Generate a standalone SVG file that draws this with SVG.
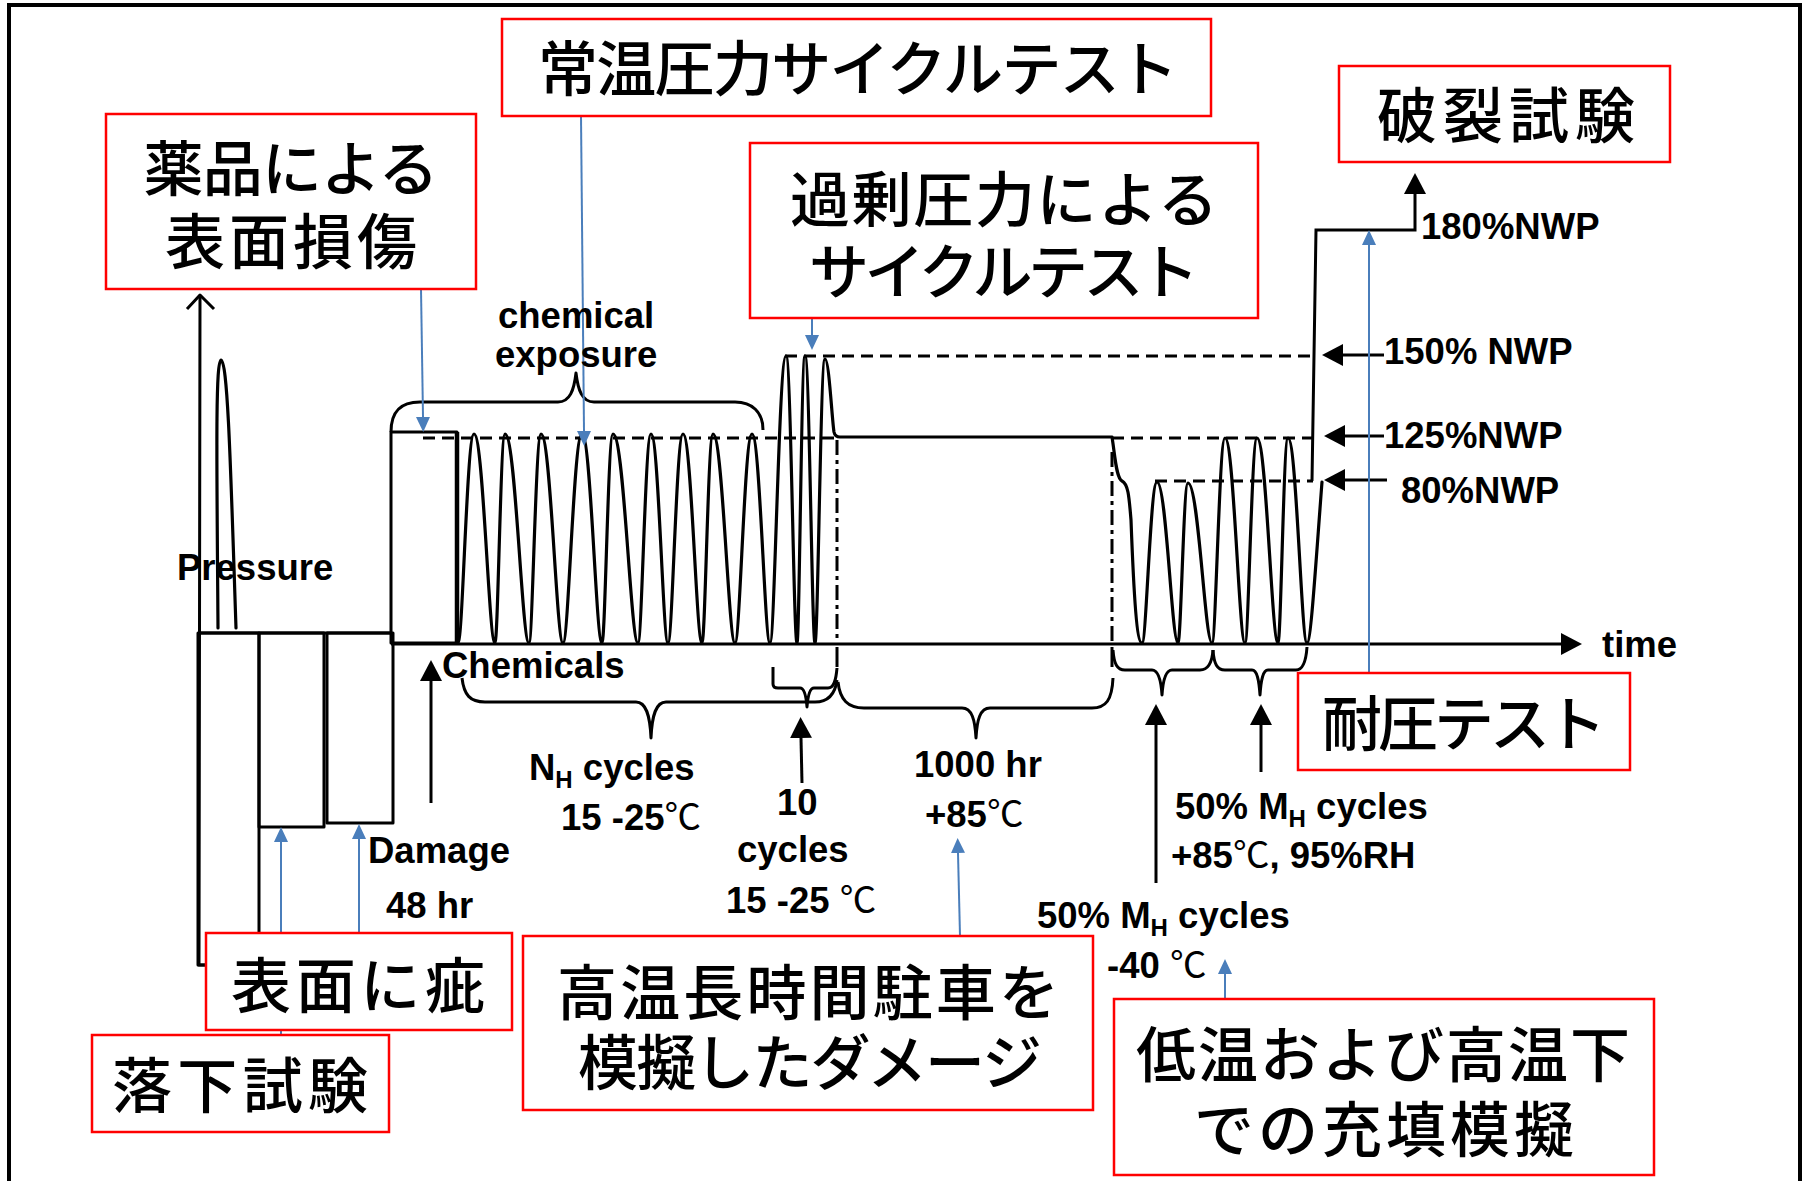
<svg xmlns="http://www.w3.org/2000/svg" width="1810" height="1181" viewBox="0 0 1810 1181">
<defs>
<marker id="ah" viewBox="0 0 21 22" refX="0" refY="11" markerWidth="21" markerHeight="22" markerUnits="userSpaceOnUse" orient="auto"><path d="M0,0 L21,11 L0,22 z" fill="#000"/></marker>
<marker id="bh" viewBox="0 0 15 14" refX="0" refY="7" markerWidth="15" markerHeight="14" markerUnits="userSpaceOnUse" orient="auto"><path d="M0,0 L15,7 L0,14 z" fill="#4A7EBB"/></marker>
</defs>
<style>
.ln{fill:none;stroke:#000;stroke-width:3;stroke-linejoin:round}
.wv{fill:none;stroke:#000;stroke-width:3.2;stroke-linejoin:round;stroke-linecap:round}
.dash{fill:none;stroke:#000;stroke-width:3;stroke-dasharray:12 7}
.dd{fill:none;stroke:#000;stroke-width:3;stroke-dasharray:15 5 4 5}
.arr{fill:none;stroke:#000;stroke-width:3;marker-end:url(#ah)}
.barr{fill:none;stroke:#4A7EBB;stroke-width:2;marker-end:url(#bh)}
.box{fill:#fff;stroke:#FF0000;stroke-width:2.5}
.jp{font-family:"Liberation Sans","Noto Sans CJK JP","Noto Sans CJK SC",sans-serif;font-size:60px;font-weight:500;fill:#000;text-anchor:middle;dominant-baseline:central}
.lb{font-family:"Liberation Sans",Arial,sans-serif;font-weight:bold;font-size:36.5px;fill:#000}
.deg{font-family:"Noto Sans CJK JP",sans-serif;font-weight:normal}
.sub{font-size:24px}
</style>
<rect width="1810" height="1181" fill="#fff"/>
<path d="M9,1185 L9,5 L1800,5 L1800,1185" fill="none" stroke="#000" stroke-width="4"/>

<g id="chart">
  <path class="ln" d="M206,965 L199,965 L200,295"/>
  <path class="ln" d="M187,309 L200,295 L214,309"/>
  <path class="wv" d="M218,628 C217,480 215,360 221,360 C228,360 231,480 236,628"/>
  <path class="ln" d="M198,633 L391,633"/>
  <rect class="ln" x="198" y="633" width="61" height="332"/>
  <rect class="ln" x="259" y="633" width="65" height="194"/>
  <rect class="ln" x="327" y="633" width="66" height="190"/>
  <rect class="ln" x="391" y="432" width="66" height="211"/>
  <path d="M457,432 L457,643" stroke="#000" stroke-width="4.5"/>
  <path class="dash" d="M423,438 L838,438"/>
  <path class="dash" d="M1112,438 L1313,438"/>
  <path class="dash" d="M785,356 L1316,356"/>
  <path class="dash" d="M1155,481 L1313,481"/>
  <path class="dd" d="M837,440 L837,643"/>
  <path class="ln" d="M837,647 L837,667"/>
  <path class="dd" d="M1112,452 L1112,643"/>
  <path class="ln" d="M1112,647 L1112,667"/>
  <path class="wv" d="M458,643 C462.8,643 466.8,434 474,434 C483.5,434 488.7,643 495,643 C498,643 500.5,434 505,434 C515.8,434 521.8,643 529,643 C532.6,643 535.6,434 541,434 C550.9,434 556.4,643 563,643 C568.7,643 573.5,434 582,434 C591,434 596,643 602,643 C605.3,643 608,434 613,434 C624.3,434 630.5,643 638,643 C641.9,643 645.2,434 651,434 C658.7,434 662.9,643 668,643 C672.5,643 676.3,434 683,434 C691.6,434 696.3,643 702,643 C705.3,643 708,434 713,434 C722.9,434 728.4,643 735,643 C740.1,643 744.4,434 752,434 C760.1,434 764.6,643 770,643 C774.8,643 778.8,356 786,356 C791,356 793.7,643 797,643 C799.4,643 801.4,356 805,356 C809.5,356 812,643 815,643 C818,643 820.5,359 825,359 C829,359 832,420 834,432 Q835,437 840,437 L1112,437 C1115,455 1116,478 1122,481 C1128,484 1129,495 1131,520 C1134,600 1137,643 1142,643 C1146.5,643 1150.3,482 1157,482 C1166.5,482 1171.7,643 1178,643 C1181,643 1183.5,483 1188,483 C1198.8,483 1204.8,643 1212,643 C1215.9,643 1219.2,438 1225,438 C1234,438 1239,643 1245,643 C1248.6,643 1251.6,438 1257,438 C1266.5,438 1271.7,643 1278,643 C1281,643 1283.5,438 1288,438 C1296.6,438 1301.3,643 1307,643 C1311,643 1316,560 1322,482"/>
  <path class="ln" d="M391,432 C391,412 400,402 420,402 L558,402 C570,402 574,390 576,373 C578,390 582,402 594,402 L735,402 C752,402 763,412 763,430"/>
  <path class="ln" d="M462,678 C464,695 470,702 485,702 L636,702 C646,702 650,715 651,738 C652,715 656,702 666,702 L815,702 C828,702 835,695 837,680"/>
  <path class="ln" d="M773,667 L773,684 Q773,688 778,688 L800,688 C804,688 806,694 807,707 C808,694 810,688 814,688 L828,688 C834,688 836,680 837,668"/>
  <path class="ln" d="M838,682 C840,700 848,708 864,708 L962,708 C972,708 975,720 976,738 C977,720 980,708 990,708 L1092,708 C1106,708 1112,700 1113,678"/>
  <path class="ln" d="M1113,650 C1114,664 1117,670 1125,670 L1152,670 C1158,670 1161,680 1162,695 C1163,680 1166,670 1172,670 L1200,670 C1208,670 1212,664 1213,650"/>
  <path class="ln" d="M1213,650 C1214,664 1217,670 1225,670 L1252,670 C1257,670 1259,680 1260,695 C1261,680 1263,670 1268,670 L1296,670 C1303,670 1306,662 1307,647"/>
</g>

<g id="connectors">
  <path class="arr" d="M391,644 L1561,644"/>
  <path class="arr" d="M1312,481 L1316,230 L1415,230 L1415,194"/>
  <path class="arr" d="M431,803 L431,681"/>
  <path class="arr" d="M802,783 L801,738"/>
  <path class="arr" d="M1156,883 L1156,725"/>
  <path class="arr" d="M1261,772 L1261,725"/>
  <path class="arr" d="M1384,355 L1343,355"/>
  <path class="arr" d="M1384,436 L1345,436"/>
  <path class="arr" d="M1387,480 L1345,480"/>
  <path class="barr" d="M421,289 L423,417"/>
  <path class="barr" d="M581,116 L584,431"/>
  <path class="barr" d="M812,318 L812,335"/>
  <path class="barr" d="M281,1035 L281,842"/>
  <path class="barr" d="M359,933 L359,839"/>
  <path class="barr" d="M960,936 L958,853"/>
  <path class="barr" d="M1225,999 L1225,974"/>
  <path class="barr" d="M1369,673 L1369,245"/>
</g>

<g id="node-yakuhin">
  <rect class="box" x="106" y="114" width="370" height="175"/>
  <text class="jp"><tspan x="291" y="170" textLength="295">薬品による</tspan><tspan x="291" y="243" textLength="252">表面損傷</tspan></text>
</g>
<g id="node-jouon">
  <rect class="box" x="502" y="19" width="709" height="97"/>
  <text class="jp" x="858" y="70" textLength="640">常温圧力サイクルテスト</text>
</g>
<g id="node-kajou">
  <rect class="box" x="750" y="143" width="508" height="175"/>
  <text class="jp"><tspan x="1004" y="201" textLength="428">過剰圧力による</tspan><tspan x="1004" y="273" textLength="390">サイクルテスト</tspan></text>
</g>
<g id="node-haretsu">
  <rect class="box" x="1339" y="66" width="331" height="96"/>
  <text class="jp" x="1506" y="117" textLength="258">破裂試験</text>
</g>
<g id="node-taiatsu">
  <rect class="box" x="1298" y="673" width="332" height="97"/>
  <text class="jp" x="1464" y="725" textLength="284">耐圧テスト</text>
</g>
<g id="node-kizu">
  <rect class="box" x="206" y="933" width="306" height="97"/>
  <text class="jp" x="358" y="987" textLength="254">表面に疵</text>
</g>
<g id="node-rakka">
  <rect class="box" x="92" y="1035" width="297" height="97"/>
  <text class="jp" x="240" y="1087" textLength="256">落下試験</text>
</g>
<g id="node-kouon">
  <rect class="box" x="523" y="936" width="570" height="174"/>
  <text class="jp"><tspan x="808" y="994" textLength="502">高温長時間駐車を</tspan><tspan x="810" y="1064" textLength="464">模擬したダメージ</tspan></text>
</g>
<g id="node-teion">
  <rect class="box" x="1114" y="999" width="540" height="176"/>
  <text class="jp"><tspan x="1383" y="1056" textLength="494">低温および高温下</tspan><tspan x="1384" y="1131" textLength="380">での充填模擬</tspan></text>
</g>

<g id="labels">
  <text class="lb" x="498" y="328">chemical</text>
  <text class="lb" x="495" y="367">exposure</text>
  <text class="lb" x="177" y="580">Pressure</text>
  <text class="lb" x="442" y="678">Chemicals</text>
  <text class="lb" x="529" y="780">N<tspan class="sub" dy="8">H</tspan><tspan dy="-8"> cycles</tspan></text>
  <text class="lb" x="561" y="830">15 -25<tspan class="deg">℃</tspan></text>
  <text class="lb" x="777" y="815">10</text>
  <text class="lb" x="737" y="862">cycles</text>
  <text class="lb" x="726" y="913">15 -25 <tspan class="deg">℃</tspan></text>
  <text class="lb" x="914" y="777">1000 hr</text>
  <text class="lb" x="925" y="827">+85<tspan class="deg">℃</tspan></text>
  <text class="lb" x="368" y="863">Damage</text>
  <text class="lb" x="386" y="918">48 hr</text>
  <text class="lb" x="1175" y="819">50% M<tspan class="sub" dy="8">H</tspan><tspan dy="-8"> cycles</tspan></text>
  <text class="lb" x="1171" y="868">+85<tspan class="deg">℃</tspan>, 95%RH</text>
  <text class="lb" x="1037" y="928">50% M<tspan class="sub" dy="8">H</tspan><tspan dy="-8"> cycles</tspan></text>
  <text class="lb" x="1107" y="978">-40 <tspan class="deg">℃</tspan></text>
  <text class="lb" x="1602" y="657">time</text>
  <text class="lb" x="1421" y="239">180%NWP</text>
  <text class="lb" x="1384" y="364">150% NWP</text>
  <text class="lb" x="1384" y="448">125%NWP</text>
  <text class="lb" x="1401" y="503">80%NWP</text>
</g>
</svg>
